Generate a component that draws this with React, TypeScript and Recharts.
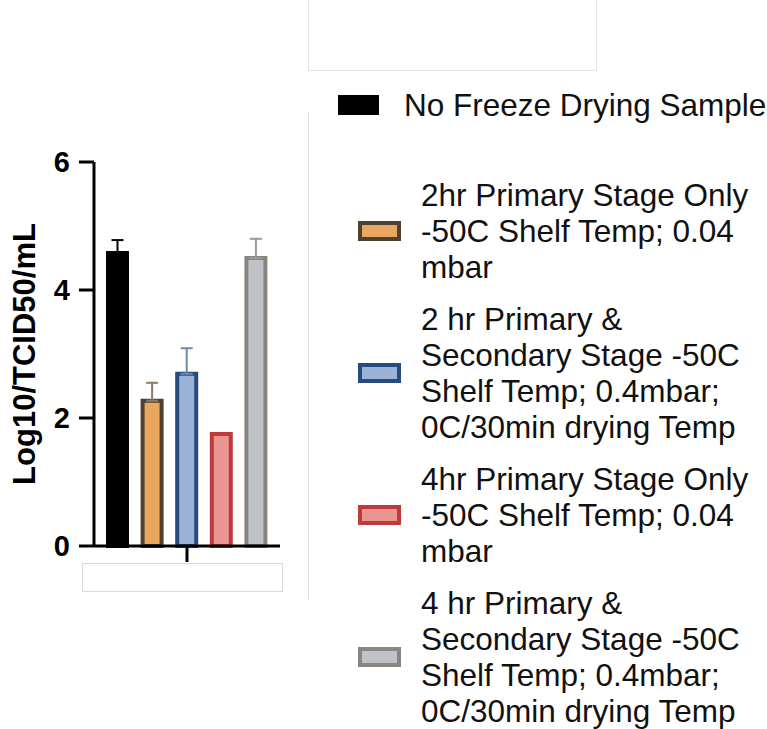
import React from 'react'
import { BarChart, Bar, XAxis, YAxis, ErrorBar, Legend } from 'recharts'

// one group, five conditions
const categories = ['']
const seriesNames = [
  'No Freeze Drying Sample',
  '2hr Primary Stage Only\n-50C Shelf Temp; 0.04\nmbar',
  '2 hr Primary &\nSecondary Stage -50C\nShelf Temp; 0.4mbar;\n0C/30min drying Temp',
  '4hr Primary Stage Only\n-50C Shelf Temp; 0.04\nmbar',
  '4 hr Primary &\nSecondary Stage -50C\nShelf Temp; 0.4mbar;\n0C/30min drying Temp',
]
const means = [4.58, 2.27, 2.69, 1.75, 4.5]
const errors = [0.2, 0.28, 0.4, 0, 0.3]
const yTicks = [0, 2, 4, 6]

const fills = ['#000000', '#e8a65e', '#9ab3d6', '#e99592', '#bfc3c7']
const strokes = ['#000000', '#4e4030', '#264c7e', '#c0393b', '#88877f']
const errColors = ['#000000', '#8a7a68', '#6f89ad', '#c0393b', '#9a9994']

const FONT = '"Liberation Sans", Arial, Helvetica, sans-serif'

const data = categories.map((name) => {
  const row: Record<string, any> = { name }
  means.forEach((m, i) => {
    row[`s${i}`] = m
    row[`e${i}`] = [0, errors[i]]
  })
  return row
})

function LegendBox() {
  return (
    <div style={{ position: 'absolute', left: 0, top: 87, fontFamily: FONT, fontSize: 31.5, lineHeight: '36px', color: '#111' }}>
      {seriesNames.map((name, i) => (
        <div
          key={i}
          style={{
            display: 'flex',
            alignItems: 'center',
            marginLeft: i === 0 ? 338 : 358,
            marginBottom: i === 0 ? 54 : 16,
          }}
        >
          <div
            style={{
              width: i === 0 ? 41 : 43,
              height: 20,
              boxSizing: 'border-box',
              background: fills[i],
              border: `4px solid ${strokes[i]}`,
              flexShrink: 0,
            }}
          />
          <div style={{ marginLeft: i === 0 ? 25 : 20, whiteSpace: 'pre-line' }}>{name}</div>
        </div>
      ))}
    </div>
  )
}

export default function App() {
  return (
    <div style={{ position: 'fixed', left: 0, top: 0, width: 767, height: 729, background: '#fff', overflow: 'hidden' }}>
      {/* faint frames left over in the source image */}
      <div style={{ position: 'absolute', left: 308, top: -2, width: 287, height: 72, border: '1px solid #e6e6e6', borderTop: 'none' }} />
      <div style={{ position: 'absolute', left: 308, top: 112, width: 0, height: 488, borderLeft: '1px solid #dcdcdc' }} />
      <div style={{ position: 'absolute', left: 82, top: 563, width: 199, height: 27, border: '1px solid #dadada' }} />

      <BarChart
        width={767}
        height={729}
        data={data}
        margin={{ top: 162, right: 487, bottom: 153, left: 0 }}
        barSize={19}
        barGap={15.6}
        barCategoryGap={0}
      >
        <XAxis
          dataKey="name"
          height={30}
          axisLine={{ stroke: '#000', strokeWidth: 3 }}
          tickLine={{ stroke: '#000', strokeWidth: 3 }}
          tickSize={16}
          tickFormatter={() => ''}
        />
        <YAxis
          width={94}
          domain={[0, 6]}
          ticks={yTicks}
          interval={0}
          axisLine={{ stroke: '#000', strokeWidth: 3 }}
          tickLine={{ stroke: '#000', strokeWidth: 3 }}
          tickSize={15}
          tickMargin={9}
          tick={{ fontSize: 29, fontWeight: 'bold', fill: '#000', fontFamily: FONT }}
          label={(props: any) => {
            const vb = props.viewBox || { x: 0, y: 162, width: 94, height: 384 }
            const cx = vb.x + 24
            const cy = vb.y + vb.height / 2
            return (
              <text
                x={cx}
                y={cy}
                transform={`rotate(-90 ${cx} ${cy})`}
                textAnchor="middle"
                dominantBaseline="central"
                fontSize={31}
                fontWeight="bold"
                fontFamily={FONT}
                fill="#000"
              >
                Log10/TCID50/mL
              </text>
            )
          }}
        />
        <Legend
          layout="vertical"
          align="center"
          verticalAlign="middle"
          content={() => <LegendBox />}
          wrapperStyle={{ position: 'absolute', left: 0, top: 0, width: 767, height: 729 }}
        />
        {seriesNames.map((name, i) => (
          <Bar
            key={i}
            dataKey={`s${i}`}
            name={name}
            fill={fills[i]}
            stroke={strokes[i]}
            strokeWidth={4}
            isAnimationActive={false}
          >
            {errors[i] > 0 && (
              <ErrorBar dataKey={`e${i}`} direction="y" width={6} stroke={errColors[i]} strokeWidth={2} />
            )}
          </Bar>
        ))}
      </BarChart>
    </div>
  )
}
